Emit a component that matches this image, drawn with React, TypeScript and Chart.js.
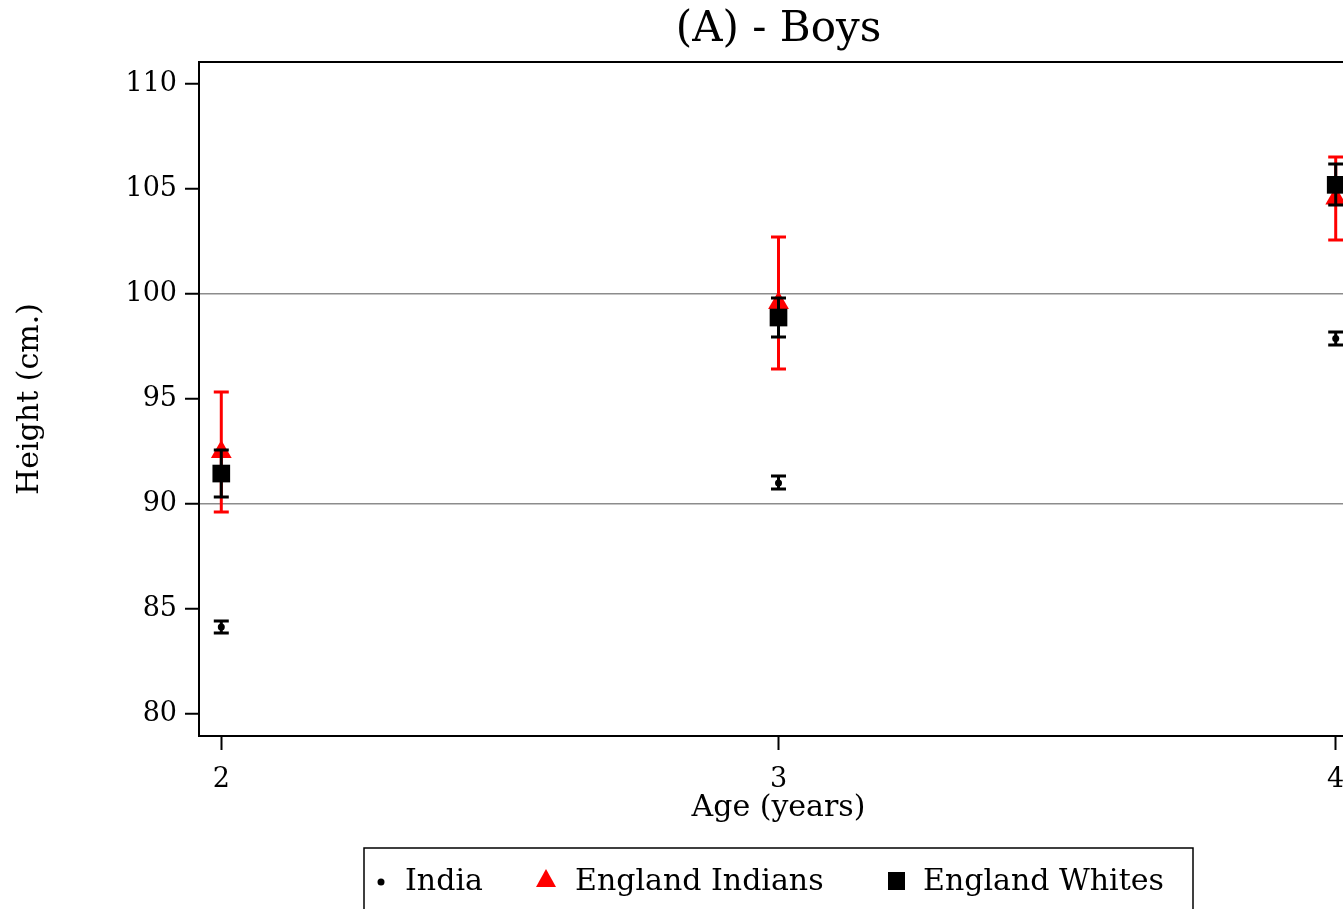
import React, { useEffect, useRef } from "react";
import { Chart, registerables } from "chart.js";
Chart.register(...registerables);

// ---- data ----
const ages = [2, 3, 4];
const xTicks = [2, 3, 4];
const yTicks = [80, 85, 90, 95, 100, 105, 110];
const gridValues = [90, 100];

const indiaMean = [84.14, 91.0, 97.88];
const indiaLow = [83.86, 90.71, 97.57];
const indiaHigh = [84.43, 91.33, 98.19];

const engIndMean = [92.48, 99.57, 104.55];
const engIndLow = [89.62, 96.43, 102.57];
const engIndHigh = [95.33, 102.71, 106.52];

const engWhiteMean = [91.45, 98.88, 105.2];
const engWhiteLow = [90.33, 97.95, 104.24];
const engWhiteHigh = [92.57, 99.81, 106.19];

const seriesNames = ["India", "England Indians", "England Whites"];
const chartTitle = "(A) - Boys";
const xTitle = "Age (years)";
const yTitle = "Height (cm.)";

const FONT = '"DejaVu Serif", "Liberation Serif", serif';

const errorBarPlugin = {
  id: "errbars",
  beforeDatasetDraw(chart: any, args: any) {
    const ds: any = chart.data.datasets[args.index];
    const ctx = chart.ctx;
    const xs = chart.scales.x;
    const ys = chart.scales.y;
    ctx.save();
    ctx.strokeStyle = ds.errColor;
    ctx.lineWidth = 3;
    ds.data.forEach((p: any, i: number) => {
      const px = xs.getPixelForValue(p.x);
      const lo = ys.getPixelForValue(ds.errLow[i]);
      const hi = ys.getPixelForValue(ds.errHigh[i]);
      const cw = 7.5;
      ctx.beginPath();
      ctx.moveTo(px, lo);
      ctx.lineTo(px, hi);
      ctx.moveTo(px - cw, lo);
      ctx.lineTo(px + cw, lo);
      ctx.moveTo(px - cw, hi);
      ctx.lineTo(px + cw, hi);
      ctx.stroke();
    });
    ctx.restore();
  },
};

const decorPlugin = {
  id: "decor",
  beforeDatasetsDraw(chart: any) {
    const { ctx, chartArea: a } = chart;
    ctx.save();
    ctx.strokeStyle = "#000";
    ctx.lineWidth = 2;
    ctx.strokeRect(a.left, a.top, a.right - a.left, a.bottom - a.top);
    ctx.restore();
  },
  afterDraw(chart: any) {
    const { ctx, chartArea: a } = chart;
    const cx = (a.left + a.right) / 2;
    ctx.save();
    ctx.fillStyle = "#000";
    ctx.textAlign = "center";
    ctx.textBaseline = "middle";
    ctx.font = `42px ${FONT}`;
    ctx.fillText(chartTitle, cx, 30);
    ctx.font = `30px ${FONT}`;
    ctx.fillText(xTitle, cx, 808);
    ctx.save();
    ctx.translate(30, (a.top + a.bottom) / 2);
    ctx.rotate(-Math.PI / 2);
    ctx.fillText(yTitle, 0, 0);
    ctx.restore();

    // legend
    const bx = cx - 414.5;
    const by = 848;
    ctx.lineWidth = 1.5;
    ctx.strokeStyle = "#000";
    ctx.strokeRect(bx, by, 829, 75);
    const ly = 882;
    ctx.textAlign = "left";
    ctx.font = `30px ${FONT}`;
    // India dot
    ctx.beginPath();
    ctx.arc(bx + 17, ly, 3.5, 0, Math.PI * 2);
    ctx.fill();
    ctx.fillText(seriesNames[0], bx + 41, ly);
    // triangle
    ctx.fillStyle = "#ff0000";
    ctx.beginPath();
    ctx.moveTo(bx + 182, ly - 13);
    ctx.lineTo(bx + 192, ly + 5);
    ctx.lineTo(bx + 172, ly + 5);
    ctx.closePath();
    ctx.fill();
    ctx.fillStyle = "#000";
    ctx.fillText(seriesNames[1], bx + 211, ly);
    // square
    ctx.fillRect(bx + 524, ly - 10, 17, 18);
    ctx.fillText(seriesNames[2], bx + 559, ly);
    ctx.restore();
  },
};

export default function App() {
  const ref = useRef<HTMLCanvasElement>(null);
  useEffect(() => {
    if (!ref.current) return;
    Chart.defaults.font.family = FONT;
    const mk = (mean: number[]) => ages.map((a, i) => ({ x: a, y: mean[i] }));
    const chart = new Chart(ref.current, {
      type: "scatter",
      data: {
        datasets: [
          {
            label: seriesNames[0],
            data: mk(indiaMean),
            pointStyle: "circle",
            pointRadius: 3.5,
            borderWidth: 0,
            backgroundColor: "#000",
            borderColor: "#000",
            order: 3,
            errLow: indiaLow,
            errHigh: indiaHigh,
            errColor: "#000",
          } as any,
          {
            label: seriesNames[1],
            data: mk(engIndMean),
            pointStyle: "triangle",
            pointRadius: 12,
            borderWidth: 0,
            backgroundColor: "#ff0000",
            borderColor: "#ff0000",
            order: 2,
            errLow: engIndLow,
            errHigh: engIndHigh,
            errColor: "#ff0000",
          } as any,
          {
            label: seriesNames[2],
            data: mk(engWhiteMean),
            pointStyle: "rect",
            pointRadius: 12.5,
            borderWidth: 0,
            backgroundColor: "#000",
            borderColor: "#000",
            order: 1,
            errLow: engWhiteLow,
            errHigh: engWhiteHigh,
            errColor: "#000",
          } as any,
        ],
      },
      options: {
        responsive: false,
        animation: false,
        events: [],
        layout: { padding: { left: 0, right: 199, top: 62, bottom: 0 } },
        plugins: { legend: { display: false }, title: { display: false }, tooltip: { enabled: false } },
        scales: {
          x: {
            type: "linear",
            min: 1.96,
            max: 4.04,
            afterBuildTicks: (s: any) => {
              s.ticks = xTicks.map((v) => ({ value: v }));
            },
            afterFit: (s: any) => {
              s.height = 194;
            },
            border: { display: false },
            grid: {
              drawOnChartArea: false,
              color: "#000",
              tickColor: "#000",
              tickLength: 14,
              tickWidth: 2,
            },
            ticks: {
              color: "#000",
              font: { size: 27, family: FONT },
              padding: 14,
              maxRotation: 0,
              callback: (v: any) => String(v),
            },
          },
          y: {
            type: "linear",
            min: 78.95,
            max: 111.05,
            afterBuildTicks: (s: any) => {
              s.ticks = yTicks.map((v) => ({ value: v }));
            },
            afterFit: (s: any) => {
              s.width = 199;
            },
            border: { display: false },
            grid: {
              drawOnChartArea: true,
              color: (c: any) => (gridValues.includes(c.tick?.value) ? "#8c8c8c" : "rgba(0,0,0,0)"),
              lineWidth: 1.5,
              tickColor: "#000",
              tickLength: 14,
              tickWidth: 2,
            },
            ticks: {
              color: "#000",
              font: { size: 27, family: FONT },
              padding: 8,
              callback: (v: any) => String(v),
            },
          },
        },
      },
      plugins: [errorBarPlugin, decorPlugin],
    });
    return () => chart.destroy();
  }, []);
  return (
    <div
      style={{
        position: "fixed",
        left: 0,
        top: 0,
        width: 1343,
        height: 909,
        overflow: "hidden",
        background: "#fff",
      }}
    >
      <canvas ref={ref} width={1557} height={930} style={{ display: "block" }} />
    </div>
  );
}
